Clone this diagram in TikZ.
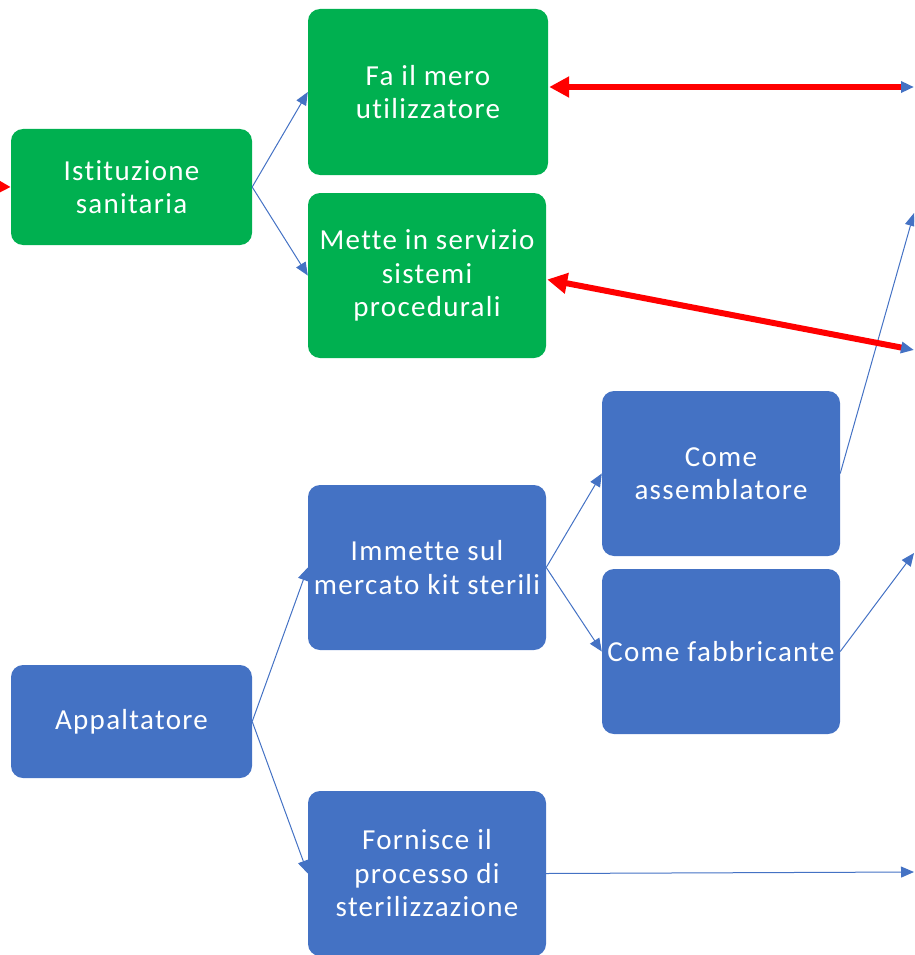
\documentclass[tikz,border=0pt]{standalone}
\usepackage{fontspec}
\setmainfont{Carlito}[LetterSpace=4.5,Ligatures=NoCommon]
\usetikzlibrary{arrows.meta}
\definecolor{boxgreen}{HTML}{00B050}
\definecolor{boxblue}{HTML}{4472C4}
\definecolor{linkred}{HTML}{FF0000}
\tikzset{
  box/.style={draw=none, rounded corners=12pt, text=white, align=center,
    inner sep=2pt, font=\fontsize{29}{33.5}\selectfont},
  gbox/.style={box, fill=boxgreen},
  bbox/.style={box, fill=boxblue},
  link/.style={draw=boxblue, line width=1pt, -{Triangle[length=13pt,width=11pt]}},
  redlink/.style={draw=linkred, line width=6pt,
    {Triangle[length=20pt,width=20pt]}-{Triangle[length=13pt,width=11pt,color=boxblue]}},
}
\begin{document}
\begin{tikzpicture}[x=1pt,y=-1pt]
\useasboundingbox (0,0) rectangle (914,955);
\clip (0,0) rectangle (914,955);
% green boxes
\node[gbox, minimum width=241pt, minimum height=116pt] (ist) at (131.5,187) {Istituzione\\sanitaria};
\node[gbox, minimum width=240pt, minimum height=166pt] (fa) at (428,92) {Fa il mero\\utilizzatore};
\node[gbox, minimum width=238pt, minimum height=165pt] (mette) at (427,275.5) {Mette in servizio\\sistemi\\procedurali};
% blue boxes
\node[bbox, minimum width=241pt, minimum height=113pt] (app) at (131.5,721.5) {Appaltatore};
\node[bbox, minimum width=238pt, minimum height=165pt] (imm) at (427,567.5) {Immette sul\\mercato kit sterili};
\node[bbox, minimum width=238pt, minimum height=165pt] (forn) at (427,873.5) {Fornisce il\\processo di\\sterilizzazione};
\node[bbox, minimum width=238pt, minimum height=165pt] (ass) at (721,473.5) {Come\\assemblatore};
\node[bbox, minimum width=238pt, minimum height=165pt] (fab) at (721,651.5) {Come fabbricante};
% off-picture ends
\coordinate (lin) at (-30,186);
\coordinate (r1) at (914,87);
\coordinate (r2) at (914,350);
\coordinate (r3) at (914,213);
\coordinate (r4) at (914,553);
\coordinate (r5) at (914,872);
% blue connectors
\draw[link] (ist.east) -- (fa.west);
\draw[link] (ist.east) -- (mette.west);
\draw[link] (app.east) -- (imm.west);
\draw[link] (app.east) -- (forn.west);
\draw[link] (imm.east) -- (ass.west);
\draw[link] (imm.east) -- (fab.west);
\draw[link] (ass.east) -- (r3);
\draw[link] (fab.east) -- (r4);
\draw[link] (forn.east) -- (r5);
% red connectors
\draw[redlink] ([xshift=1pt]fa.east |- r1) -- (r1);
\draw[redlink] ([xshift=1pt,yshift=-4pt]mette.east) -- (r2);
\draw[draw=linkred, line width=6pt, -{Triangle[length=20pt,width=20pt]}] (lin) -- (ist.west);
\end{tikzpicture}
\end{document}
